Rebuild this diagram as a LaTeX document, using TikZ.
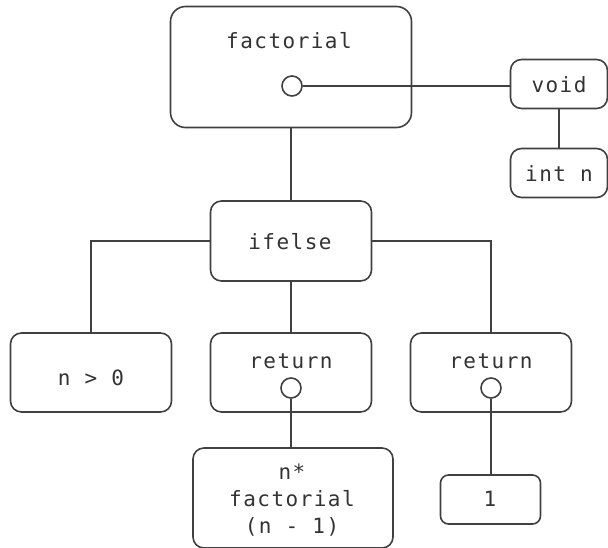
\documentclass[tikz,border=0pt]{standalone}
\usepackage{fontspec}
\newfontfamily\codefont{DejaVu Sans Mono}[LetterSpace=7]
\begin{document}
\begin{tikzpicture}[x=1pt,y=-1pt,
  box/.style={draw=black!75, line width=1.6pt, rounded corners=#1, inner sep=0pt, fill=white},
  box/.default=11pt,
  txt/.style={font=\codefont\fontsize{21}{27}\selectfont, text=black!80, inner sep=0pt, align=center},
  port/.style={circle, draw=black!75, line width=1.6pt, minimum size=20pt, inner sep=0pt, fill=white},
  wire/.style={draw=black!75, line width=1.6pt}]
\useasboundingbox (0,0) rectangle (608,548);

% boxes
\node[box=15pt, minimum width=241pt, minimum height=121pt] (fact) at (291,67) {};
\node[box, minimum width=97pt, minimum height=49pt] (void) at (559,84) {};
\node[box, minimum width=97pt, minimum height=49pt] (intn) at (559,173) {};
\node[box, minimum width=161pt, minimum height=80pt] (ifelse) at (291,241) {};
\node[box, minimum width=161pt, minimum height=79pt] (cond) at (91,372.5) {};
\node[box, minimum width=161pt, minimum height=79pt] (ret1) at (291,372.5) {};
\node[box, minimum width=161pt, minimum height=79pt] (ret2) at (491,372.5) {};
\node[box, minimum width=200pt, minimum height=100pt] (rec) at (293,498) {};
\node[box=8pt, minimum width=100pt, minimum height=49pt] (one) at (490.5,499.5) {};

% ports
\node[port] (factport) at (292,86) {};
\node[port] (ret1port) at (291,388) {};
\node[port] (ret2port) at (491,388) {};

% labels
\node[txt] (factlbl) at (289,41) {factorial};
\node[txt] (voidlbl) at (559,85) {void};
\node[txt] (intnlbl) at (559,174) {int n};
\node[txt] (ifelselbl) at (290,242) {ifelse};
\node[txt] (condlbl) at (91,378) {n > 0};
\node[txt] (ret1lbl) at (291,361) {return};
\node[txt] (ret2lbl) at (491,361) {return};
\node[txt] (reclbl) at (292,500) {n*\\factorial\\(n - 1)};
\node[txt] (onelbl) at (490,499) {1};

% connectors
\draw[wire] (factport.east) -- (factport.east -| void.west);
\draw[wire] (void.south) -- (intn.north);
\draw[wire] (fact.south) -- (ifelse.north);
\draw[wire] (ifelse.west) -| (cond.north);
\draw[wire] (ifelse.east) -| (ret2.north);
\draw[wire] (ifelse.south) -- (ret1.north);
\draw[wire] (ret1port.south) -- (ret1port.south |- rec.north);
\draw[wire] (ret2port.south) -- (one.north -| ret2port.south);
\end{tikzpicture}
\end{document}
